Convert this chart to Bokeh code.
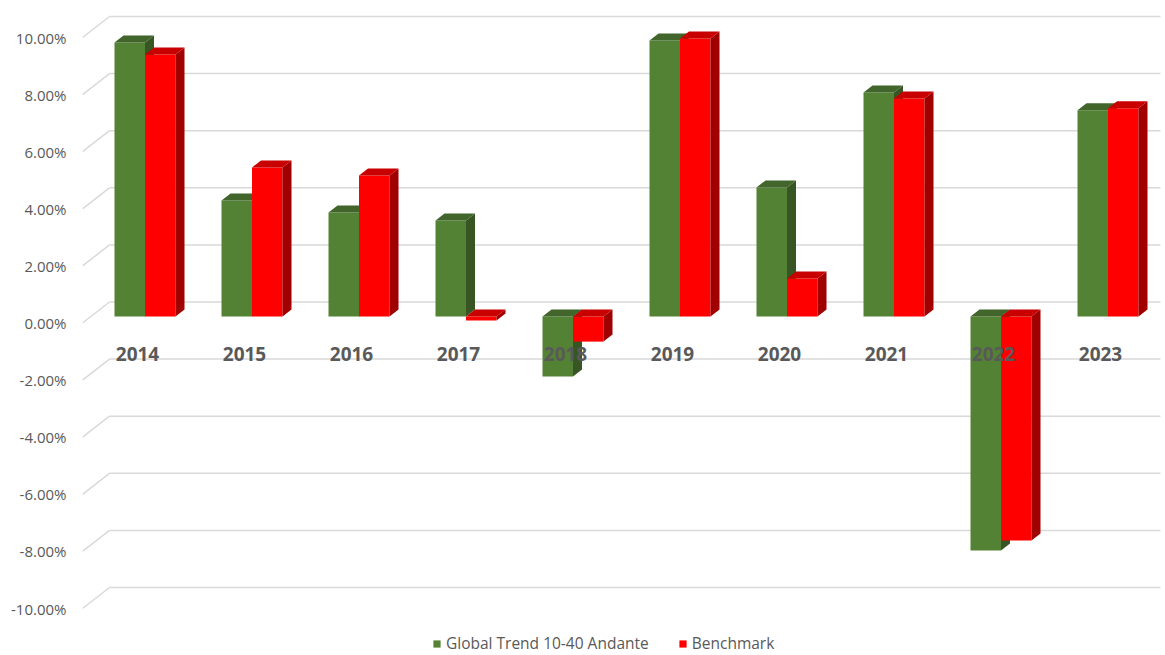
from bokeh.plotting import figure
from bokeh.models import Range1d, FixedTicker, PrintfTickFormatter, Legend, LegendItem
from bokeh.core.properties import value
from bokeh.embed import file_html
from bokeh.resources import INLINE

# ---- data ----
years = ["2014", "2015", "2016", "2017", "2018", "2019", "2020", "2021", "2022", "2023"]
fund = [9.60, 4.06, 3.64, 3.36, -2.10, 9.67, 4.52, 7.85, -8.20, 7.22]
bench = [9.18, 5.22, 4.94, -0.14, -0.88, 9.74, 1.33, 7.64, -7.85, 7.29]
y_ticks = [-10, -8, -6, -4, -2, 0, 2, 4, 6, 8, 10]
series_names = ["Global Trend 10-40 Andante", "Benchmark"]

# ---- geometry (pixel scale of the 3D projection) ----
W, H = 1165, 655
FRAME_LEFT = 82
PX_X = 107.0          # px per category
PX_Y = 28.55          # px per percent
X_START = -(144.5 - FRAME_LEFT) / PX_X
X_END = X_START + (W - FRAME_LEFT) / PX_X
Y_END = 322.5 / PX_Y
Y_START = (322.5 - H) / PX_Y
BAR_Y_OFF = 6.5 / PX_Y
WALL_Y_OFF = 21.0 / PX_Y
WALL_X_OFF = 27.0 / PX_X
WALL_X_RIGHT = X_START + (1160 - FRAME_LEFT) / PX_X
DX = 9.0 / PX_X
DY = 7.0 / PX_Y
BAR_W = 30.5 / PX_X
LABEL_DX = -7.5 / PX_X
LABEL_Y = (322.5 - 353) / PX_Y

p = figure(width=W, height=H, output_backend="svg", toolbar_location=None,
           x_range=Range1d(X_START, X_END), y_range=Range1d(Y_START, Y_END),
           x_axis_location=None, y_axis_location="left",
           min_border_left=FRAME_LEFT, min_border_right=0, min_border_top=0, min_border_bottom=0)
p.outline_line_color = None
p.xgrid.visible = False
p.ygrid.visible = False
p.background_fill_color = "white"
p.border_fill_color = "white"

ax = p.yaxis[0]
ax.ticker = FixedTicker(ticks=y_ticks)
ax.formatter = PrintfTickFormatter(format="%.2f%%")
ax.axis_line_color = None
ax.major_tick_line_color = None
ax.minor_tick_line_color = None
ax.major_tick_out = 0
ax.major_tick_in = 0
ax.major_label_standoff = 16
ax.major_label_text_font = "Open Sans"
ax.major_label_text_font_size = "15px"
ax.major_label_text_color = "#595959"

# ---- gridlines: back wall + diagonals ----
GRID = "#D9D9D9"
p.segment(x0=[WALL_X_OFF + X_START] * len(y_ticks), x1=[WALL_X_RIGHT] * len(y_ticks),
          y0=[t + WALL_Y_OFF for t in y_ticks], y1=[t + WALL_Y_OFF for t in y_ticks],
          line_color=GRID, line_width=1.5)
p.segment(x0=[X_START] * len(y_ticks), x1=[X_START + WALL_X_OFF] * len(y_ticks),
          y0=y_ticks, y1=[t + WALL_Y_OFF for t in y_ticks],
          line_color=GRID, line_width=1.5)


def draw_series(vals, offset, front, side, top):
    left, right, bot, tp = [], [], [], []
    sxs, sys, txs, tys = [], [], [], []
    for i, v in enumerate(vals):
        xl = i + offset
        xr = xl + BAR_W
        y0 = min(0, v) + BAR_Y_OFF
        y1 = max(0, v) + BAR_Y_OFF
        left.append(xl); right.append(xr); bot.append(y0); tp.append(y1)
        sxs.append([xr, xr, xr + DX, xr + DX])
        sys.append([y0, y1, y1 + DY, y0 + DY])
        txs.append([xl, xr, xr + DX, xl + DX])
        tys.append([y1, y1, y1 + DY, y1 + DY])
    fr = p.quad(left=left, right=right, bottom=bot, top=tp, fill_color=front, line_color=None)
    p.patches(xs=sxs, ys=sys, fill_color=side, line_color=None)
    p.patches(xs=txs, ys=tys, fill_color=top, line_color=None)
    return fr


g = draw_series(fund, -BAR_W, "#548235", "#375623", "#41652A")
r = draw_series(bench, 0.0, "#FF0000", "#A00000", "#C80000")

# ---- category labels ----
p.text(x=[i + LABEL_DX for i in range(len(years))], y=[LABEL_Y] * len(years), text=years,
       text_font=value("Open Sans"), text_font_style="bold", text_font_size="19px",
       text_color="#595959", text_align="center", text_baseline="middle")

legend = Legend(items=[LegendItem(label=series_names[0], renderers=[g]),
                       LegendItem(label=series_names[1], renderers=[r])],
                orientation="horizontal", location=(350, 1),
                glyph_width=9, glyph_height=9, label_height=14, label_standoff=5,
                spacing=29, padding=0, margin=0,
                border_line_color=None, background_fill_alpha=0,
                label_text_font="Open Sans", label_text_font_size="15.5px",
                label_text_color="#595959")
p.add_layout(legend)

open("out.html", "w").write(file_html(p, INLINE))
